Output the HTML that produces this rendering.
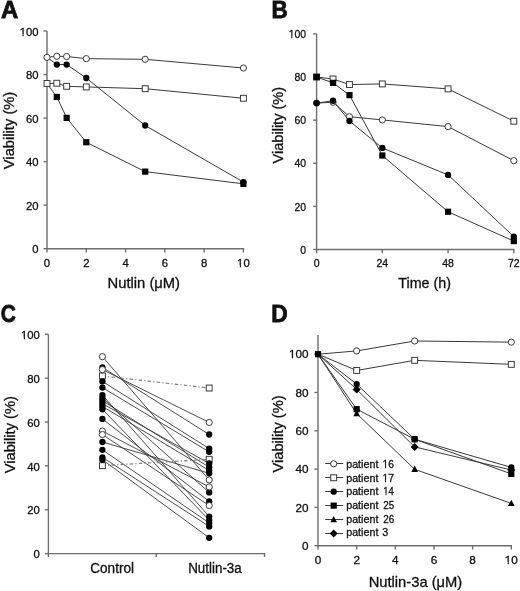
<!DOCTYPE html>
<html><head><meta charset="utf-8"><style>
html,body{margin:0;padding:0;background:#fff;}
svg{display:block;filter:grayscale(1) blur(0.3px);}
text{font-family:"Liberation Sans",sans-serif;fill:#111;stroke:#111;stroke-width:0.3px;}
</style></head><body>
<svg width="520" height="591" viewBox="0 0 520 591">
<rect width="520" height="591" fill="#fff"/>
<g>
<text x="1.02" y="17.80" font-size="23.7" font-weight="bold" style="stroke-width:0.8px" textLength="17.27" lengthAdjust="spacingAndGlyphs">A</text>
<line x1="47.00" y1="31.00" x2="47.00" y2="249.20" stroke="#6e6e6e" stroke-width="1.4" />
<line x1="43.50" y1="31.00" x2="47.00" y2="31.00" stroke="#6e6e6e" stroke-width="1.4" />
<text x="38.60" y="35.70" font-size="11.3" text-anchor="end" font-weight="normal" >100</text>
<line x1="43.50" y1="74.54" x2="47.00" y2="74.54" stroke="#6e6e6e" stroke-width="1.4" />
<text x="38.60" y="79.24" font-size="11.3" text-anchor="end" font-weight="normal" >80</text>
<line x1="43.50" y1="118.08" x2="47.00" y2="118.08" stroke="#6e6e6e" stroke-width="1.4" />
<text x="38.60" y="122.78" font-size="11.3" text-anchor="end" font-weight="normal" >60</text>
<line x1="43.50" y1="161.62" x2="47.00" y2="161.62" stroke="#6e6e6e" stroke-width="1.4" />
<text x="38.60" y="166.32" font-size="11.3" text-anchor="end" font-weight="normal" >40</text>
<line x1="43.50" y1="205.16" x2="47.00" y2="205.16" stroke="#6e6e6e" stroke-width="1.4" />
<text x="38.60" y="209.86" font-size="11.3" text-anchor="end" font-weight="normal" >20</text>
<line x1="43.50" y1="248.70" x2="47.00" y2="248.70" stroke="#6e6e6e" stroke-width="1.4" />
<text x="38.60" y="253.40" font-size="11.3" text-anchor="end" font-weight="normal" >0</text>
<line x1="47.00" y1="248.70" x2="244.10" y2="248.70" stroke="#6e6e6e" stroke-width="1.4" />
<line x1="47.00" y1="248.70" x2="47.00" y2="252.50" stroke="#6e6e6e" stroke-width="1.4" />
<text x="47.00" y="266.70" font-size="11.3" text-anchor="middle" font-weight="normal" >0</text>
<line x1="86.28" y1="248.70" x2="86.28" y2="252.50" stroke="#6e6e6e" stroke-width="1.4" />
<text x="86.28" y="266.70" font-size="11.3" text-anchor="middle" font-weight="normal" >2</text>
<line x1="125.56" y1="248.70" x2="125.56" y2="252.50" stroke="#6e6e6e" stroke-width="1.4" />
<text x="125.56" y="266.70" font-size="11.3" text-anchor="middle" font-weight="normal" >4</text>
<line x1="164.84" y1="248.70" x2="164.84" y2="252.50" stroke="#6e6e6e" stroke-width="1.4" />
<text x="164.84" y="266.70" font-size="11.3" text-anchor="middle" font-weight="normal" >6</text>
<line x1="204.12" y1="248.70" x2="204.12" y2="252.50" stroke="#6e6e6e" stroke-width="1.4" />
<text x="204.12" y="266.70" font-size="11.3" text-anchor="middle" font-weight="normal" >8</text>
<line x1="243.40" y1="248.70" x2="243.40" y2="252.50" stroke="#6e6e6e" stroke-width="1.4" />
<text x="243.40" y="266.70" font-size="11.3" text-anchor="middle" font-weight="normal" >10</text>
<text transform="translate(13.50,169.18) rotate(-90)" font-size="13.8" textLength="77.47" lengthAdjust="spacingAndGlyphs">Viability (%)</text>
<text x="107.52" y="287.90" font-size="13.8" textLength="72.52" lengthAdjust="spacingAndGlyphs">Nutlin (&#956;M)</text>
<polyline points="47.00,83.47 56.82,96.96 66.64,117.86 86.28,142.24 145.20,171.63 243.40,183.83" fill="none" stroke="#3a3a3a" stroke-width="1" />
<polyline points="47.00,57.34 56.82,64.53 66.64,64.53 86.28,78.02 145.20,125.48 243.40,182.08" fill="none" stroke="#3a3a3a" stroke-width="1" />
<polyline points="47.00,83.47 56.82,83.25 66.64,86.30 86.28,86.95 145.20,88.69 243.40,98.27" fill="none" stroke="#3a3a3a" stroke-width="1" />
<polyline points="47.00,57.34 56.82,56.25 66.64,56.47 86.28,58.65 145.20,59.30 243.40,68.01" fill="none" stroke="#3a3a3a" stroke-width="1" />
<circle cx="56.82" cy="64.53" r="3.15" fill="#000"/>
<circle cx="66.64" cy="64.53" r="3.15" fill="#000"/>
<circle cx="86.28" cy="78.02" r="3.15" fill="#000"/>
<circle cx="145.20" cy="125.48" r="3.15" fill="#000"/>
<circle cx="243.40" cy="182.08" r="3.15" fill="#000"/>
<rect x="53.72" y="93.86" width="6.20" height="6.20" fill="#000"/>
<rect x="63.54" y="114.76" width="6.20" height="6.20" fill="#000"/>
<rect x="83.18" y="139.14" width="6.20" height="6.20" fill="#000"/>
<rect x="142.10" y="168.53" width="6.20" height="6.20" fill="#000"/>
<rect x="240.30" y="180.73" width="6.20" height="6.20" fill="#000"/>
<rect x="44.05" y="80.52" width="5.90" height="5.90" fill="#fff" stroke="#3a3a3a" stroke-width="1"/>
<rect x="53.87" y="80.30" width="5.90" height="5.90" fill="#fff" stroke="#3a3a3a" stroke-width="1"/>
<rect x="63.69" y="83.35" width="5.90" height="5.90" fill="#fff" stroke="#3a3a3a" stroke-width="1"/>
<rect x="83.33" y="84.00" width="5.90" height="5.90" fill="#fff" stroke="#3a3a3a" stroke-width="1"/>
<rect x="142.25" y="85.74" width="5.90" height="5.90" fill="#fff" stroke="#3a3a3a" stroke-width="1"/>
<rect x="240.45" y="95.32" width="5.90" height="5.90" fill="#fff" stroke="#3a3a3a" stroke-width="1"/>
<circle cx="47.00" cy="57.34" r="3.10" fill="#fff" stroke="#3a3a3a" stroke-width="1"/>
<circle cx="56.82" cy="56.25" r="3.10" fill="#fff" stroke="#3a3a3a" stroke-width="1"/>
<circle cx="66.64" cy="56.47" r="3.10" fill="#fff" stroke="#3a3a3a" stroke-width="1"/>
<circle cx="86.28" cy="58.65" r="3.10" fill="#fff" stroke="#3a3a3a" stroke-width="1"/>
<circle cx="145.20" cy="59.30" r="3.10" fill="#fff" stroke="#3a3a3a" stroke-width="1"/>
<circle cx="243.40" cy="68.01" r="3.10" fill="#fff" stroke="#3a3a3a" stroke-width="1"/>
</g>
<g>
<text x="271.44" y="17.60" font-size="23.7" font-weight="bold" style="stroke-width:0.8px" textLength="16.25" lengthAdjust="spacingAndGlyphs">B</text>
<line x1="316.60" y1="33.90" x2="316.60" y2="250.00" stroke="#6e6e6e" stroke-width="1.4" />
<line x1="313.10" y1="33.90" x2="316.60" y2="33.90" stroke="#6e6e6e" stroke-width="1.4" />
<text transform="translate(306.20,38.05) scale(0.930,1)" font-size="11.3" text-anchor="end" font-weight="normal" >100</text>
<line x1="313.10" y1="77.02" x2="316.60" y2="77.02" stroke="#6e6e6e" stroke-width="1.4" />
<text transform="translate(306.20,81.17) scale(0.930,1)" font-size="11.3" text-anchor="end" font-weight="normal" >80</text>
<line x1="313.10" y1="120.14" x2="316.60" y2="120.14" stroke="#6e6e6e" stroke-width="1.4" />
<text transform="translate(306.20,124.29) scale(0.930,1)" font-size="11.3" text-anchor="end" font-weight="normal" >60</text>
<line x1="313.10" y1="163.26" x2="316.60" y2="163.26" stroke="#6e6e6e" stroke-width="1.4" />
<text transform="translate(306.20,167.41) scale(0.930,1)" font-size="11.3" text-anchor="end" font-weight="normal" >40</text>
<line x1="313.10" y1="206.38" x2="316.60" y2="206.38" stroke="#6e6e6e" stroke-width="1.4" />
<text transform="translate(306.20,210.53) scale(0.930,1)" font-size="11.3" text-anchor="end" font-weight="normal" >20</text>
<line x1="313.10" y1="249.50" x2="316.60" y2="249.50" stroke="#6e6e6e" stroke-width="1.4" />
<text transform="translate(306.20,253.65) scale(0.930,1)" font-size="11.3" text-anchor="end" font-weight="normal" >0</text>
<line x1="316.60" y1="249.50" x2="514.51" y2="249.50" stroke="#6e6e6e" stroke-width="1.4" />
<line x1="316.60" y1="249.50" x2="316.60" y2="253.30" stroke="#6e6e6e" stroke-width="1.4" />
<text transform="translate(316.60,266.50) scale(0.930,1)" font-size="11.3" text-anchor="middle" font-weight="normal" >0</text>
<line x1="382.34" y1="249.50" x2="382.34" y2="253.30" stroke="#6e6e6e" stroke-width="1.4" />
<text transform="translate(382.34,266.50) scale(0.930,1)" font-size="11.3" text-anchor="middle" font-weight="normal" >24</text>
<line x1="448.07" y1="249.50" x2="448.07" y2="253.30" stroke="#6e6e6e" stroke-width="1.4" />
<text transform="translate(448.07,266.50) scale(0.930,1)" font-size="11.3" text-anchor="middle" font-weight="normal" >48</text>
<line x1="513.81" y1="249.50" x2="513.81" y2="253.30" stroke="#6e6e6e" stroke-width="1.4" />
<text transform="translate(513.81,266.50) scale(0.930,1)" font-size="11.3" text-anchor="middle" font-weight="normal" >72</text>
<text transform="translate(282.50,163.38) rotate(-90)" font-size="13.8" textLength="76.42" lengthAdjust="spacingAndGlyphs">Viability (%)</text>
<text x="398.35" y="288.10" font-size="13.8" textLength="52.62" lengthAdjust="spacingAndGlyphs">Time (h)</text>
<polyline points="316.60,103.11 333.03,102.25 349.47,116.69 382.34,119.92 448.07,126.61 513.81,160.67" fill="none" stroke="#3a3a3a" stroke-width="1" />
<polyline points="316.60,77.02 333.03,78.96 349.47,84.57 382.34,83.92 448.07,88.88 513.81,121.22" fill="none" stroke="#3a3a3a" stroke-width="1" />
<polyline points="316.60,103.11 333.03,100.74 349.47,121.00 382.34,147.95 448.07,174.90 513.81,236.56" fill="none" stroke="#3a3a3a" stroke-width="1" />
<polyline points="316.60,77.02 333.03,82.84 349.47,95.13 382.34,155.50 448.07,211.77 513.81,241.09" fill="none" stroke="#3a3a3a" stroke-width="1" />
<circle cx="316.60" cy="103.11" r="3.10" fill="#fff" stroke="#3a3a3a" stroke-width="1"/>
<circle cx="333.03" cy="102.25" r="3.10" fill="#fff" stroke="#3a3a3a" stroke-width="1"/>
<circle cx="349.47" cy="116.69" r="3.10" fill="#fff" stroke="#3a3a3a" stroke-width="1"/>
<circle cx="382.34" cy="119.92" r="3.10" fill="#fff" stroke="#3a3a3a" stroke-width="1"/>
<circle cx="448.07" cy="126.61" r="3.10" fill="#fff" stroke="#3a3a3a" stroke-width="1"/>
<circle cx="513.81" cy="160.67" r="3.10" fill="#fff" stroke="#3a3a3a" stroke-width="1"/>
<rect x="313.65" y="74.07" width="5.90" height="5.90" fill="#fff" stroke="#3a3a3a" stroke-width="1"/>
<rect x="330.08" y="76.01" width="5.90" height="5.90" fill="#fff" stroke="#3a3a3a" stroke-width="1"/>
<rect x="346.52" y="81.62" width="5.90" height="5.90" fill="#fff" stroke="#3a3a3a" stroke-width="1"/>
<rect x="379.39" y="80.97" width="5.90" height="5.90" fill="#fff" stroke="#3a3a3a" stroke-width="1"/>
<rect x="445.12" y="85.93" width="5.90" height="5.90" fill="#fff" stroke="#3a3a3a" stroke-width="1"/>
<rect x="510.86" y="118.27" width="5.90" height="5.90" fill="#fff" stroke="#3a3a3a" stroke-width="1"/>
<circle cx="316.60" cy="103.11" r="3.15" fill="#000"/>
<circle cx="333.03" cy="100.74" r="3.15" fill="#000"/>
<circle cx="349.47" cy="121.00" r="3.15" fill="#000"/>
<circle cx="382.34" cy="147.95" r="3.15" fill="#000"/>
<circle cx="448.07" cy="174.90" r="3.15" fill="#000"/>
<circle cx="513.81" cy="236.56" r="3.15" fill="#000"/>
<rect x="313.50" y="73.92" width="6.20" height="6.20" fill="#000"/>
<rect x="329.93" y="79.74" width="6.20" height="6.20" fill="#000"/>
<rect x="346.37" y="92.03" width="6.20" height="6.20" fill="#000"/>
<rect x="379.24" y="152.40" width="6.20" height="6.20" fill="#000"/>
<rect x="444.97" y="208.67" width="6.20" height="6.20" fill="#000"/>
<rect x="510.71" y="237.99" width="6.20" height="6.20" fill="#000"/>
</g>
<g>
<text x="0.65" y="321.70" font-size="23.7" font-weight="bold" style="stroke-width:0.8px" textLength="15.10" lengthAdjust="spacingAndGlyphs">C</text>
<line x1="48.40" y1="334.30" x2="48.40" y2="554.10" stroke="#6e6e6e" stroke-width="1.4" />
<line x1="44.90" y1="334.30" x2="48.40" y2="334.30" stroke="#6e6e6e" stroke-width="1.4" />
<text x="39.90" y="338.95" font-size="11.3" text-anchor="end" font-weight="normal" >100</text>
<line x1="44.90" y1="378.16" x2="48.40" y2="378.16" stroke="#6e6e6e" stroke-width="1.4" />
<text x="39.90" y="382.81" font-size="11.3" text-anchor="end" font-weight="normal" >80</text>
<line x1="44.90" y1="422.02" x2="48.40" y2="422.02" stroke="#6e6e6e" stroke-width="1.4" />
<text x="39.90" y="426.67" font-size="11.3" text-anchor="end" font-weight="normal" >60</text>
<line x1="44.90" y1="465.88" x2="48.40" y2="465.88" stroke="#6e6e6e" stroke-width="1.4" />
<text x="39.90" y="470.53" font-size="11.3" text-anchor="end" font-weight="normal" >40</text>
<line x1="44.90" y1="509.74" x2="48.40" y2="509.74" stroke="#6e6e6e" stroke-width="1.4" />
<text x="39.90" y="514.39" font-size="11.3" text-anchor="end" font-weight="normal" >20</text>
<line x1="44.90" y1="553.60" x2="48.40" y2="553.60" stroke="#6e6e6e" stroke-width="1.4" />
<text x="39.90" y="558.25" font-size="11.3" text-anchor="end" font-weight="normal" >0</text>
<line x1="48.40" y1="553.60" x2="265.20" y2="553.60" stroke="#6e6e6e" stroke-width="1.4" />
<line x1="48.40" y1="553.60" x2="48.40" y2="557.00" stroke="#6e6e6e" stroke-width="1.4" />
<line x1="156.30" y1="553.60" x2="156.30" y2="557.00" stroke="#6e6e6e" stroke-width="1.4" />
<line x1="264.50" y1="553.60" x2="264.50" y2="557.00" stroke="#6e6e6e" stroke-width="1.4" />
<text transform="translate(15.40,473.19) rotate(-90)" font-size="13.8" textLength="77.00" lengthAdjust="spacingAndGlyphs">Viability (%)</text>
<text x="90.28" y="573.00" font-size="13.8" textLength="43.71" lengthAdjust="spacingAndGlyphs">Control</text>
<text x="188.23" y="572.80" font-size="13.8" textLength="53.48" lengthAdjust="spacingAndGlyphs">Nutlin-3a</text>
<line x1="102.40" y1="356.67" x2="209.20" y2="479.92" stroke="#3a3a3a" stroke-width="0.9" />
<line x1="102.40" y1="367.41" x2="209.20" y2="434.52" stroke="#3a3a3a" stroke-width="0.9" />
<line x1="102.40" y1="369.61" x2="209.20" y2="422.46" stroke="#3a3a3a" stroke-width="0.9" />
<line x1="102.40" y1="381.45" x2="209.20" y2="448.56" stroke="#3a3a3a" stroke-width="0.9" />
<line x1="102.40" y1="387.59" x2="209.20" y2="451.84" stroke="#3a3a3a" stroke-width="0.9" />
<line x1="102.40" y1="395.05" x2="209.20" y2="516.54" stroke="#3a3a3a" stroke-width="0.9" />
<line x1="102.40" y1="397.90" x2="209.20" y2="492.42" stroke="#3a3a3a" stroke-width="0.9" />
<line x1="102.40" y1="400.75" x2="209.20" y2="467.20" stroke="#3a3a3a" stroke-width="0.9" />
<line x1="102.40" y1="403.60" x2="209.20" y2="463.47" stroke="#3a3a3a" stroke-width="0.9" />
<line x1="102.40" y1="406.45" x2="209.20" y2="470.49" stroke="#3a3a3a" stroke-width="0.9" />
<line x1="102.40" y1="409.30" x2="209.20" y2="520.05" stroke="#3a3a3a" stroke-width="0.9" />
<line x1="102.40" y1="418.95" x2="209.20" y2="501.41" stroke="#3a3a3a" stroke-width="0.9" />
<line x1="102.40" y1="431.01" x2="209.20" y2="486.93" stroke="#3a3a3a" stroke-width="0.9" />
<line x1="102.40" y1="434.52" x2="209.20" y2="505.57" stroke="#3a3a3a" stroke-width="0.9" />
<line x1="102.40" y1="441.98" x2="209.20" y2="473.34" stroke="#3a3a3a" stroke-width="0.9" />
<line x1="102.40" y1="449.87" x2="209.20" y2="522.90" stroke="#3a3a3a" stroke-width="0.9" />
<line x1="102.40" y1="457.33" x2="209.20" y2="526.41" stroke="#3a3a3a" stroke-width="0.9" />
<line x1="102.40" y1="459.74" x2="209.20" y2="537.81" stroke="#3a3a3a" stroke-width="0.9" />
<line x1="102.40" y1="375.97" x2="209.20" y2="388.03" stroke="#808080" stroke-width="1.2" stroke-dasharray="3.5,2.2,1.2,2.2"/>
<line x1="102.40" y1="465.66" x2="209.20" y2="459.30" stroke="#808080" stroke-width="1.2" stroke-dasharray="3.5,2.2,1.2,2.2"/>
<rect x="99.45" y="373.02" width="5.90" height="5.90" fill="#fff" stroke="#3a3a3a" stroke-width="1"/>
<rect x="206.25" y="385.08" width="5.90" height="5.90" fill="#fff" stroke="#3a3a3a" stroke-width="1"/>
<rect x="99.45" y="462.71" width="5.90" height="5.90" fill="#fff" stroke="#3a3a3a" stroke-width="1"/>
<rect x="206.25" y="456.35" width="5.90" height="5.90" fill="#fff" stroke="#3a3a3a" stroke-width="1"/>
<circle cx="102.40" cy="356.67" r="3.10" fill="#fff" stroke="#3a3a3a" stroke-width="1"/>
<circle cx="102.40" cy="367.41" r="3.15" fill="#000"/>
<circle cx="102.40" cy="369.61" r="3.10" fill="#fff" stroke="#3a3a3a" stroke-width="1"/>
<circle cx="102.40" cy="381.45" r="3.15" fill="#000"/>
<circle cx="102.40" cy="387.59" r="3.15" fill="#000"/>
<circle cx="102.40" cy="395.05" r="3.15" fill="#000"/>
<circle cx="102.40" cy="397.90" r="3.15" fill="#000"/>
<circle cx="102.40" cy="400.75" r="3.15" fill="#000"/>
<circle cx="102.40" cy="403.60" r="3.15" fill="#000"/>
<circle cx="102.40" cy="406.45" r="3.15" fill="#000"/>
<circle cx="102.40" cy="409.30" r="3.15" fill="#000"/>
<circle cx="102.40" cy="418.95" r="3.15" fill="#000"/>
<circle cx="102.40" cy="431.01" r="3.10" fill="#fff" stroke="#3a3a3a" stroke-width="1"/>
<circle cx="102.40" cy="434.52" r="3.10" fill="#fff" stroke="#3a3a3a" stroke-width="1"/>
<circle cx="102.40" cy="441.98" r="3.15" fill="#000"/>
<circle cx="102.40" cy="449.87" r="3.15" fill="#000"/>
<circle cx="102.40" cy="457.33" r="3.15" fill="#000"/>
<circle cx="102.40" cy="459.74" r="3.15" fill="#000"/>
<circle cx="209.20" cy="479.92" r="3.10" fill="#fff" stroke="#3a3a3a" stroke-width="1"/>
<circle cx="209.20" cy="434.52" r="3.15" fill="#000"/>
<circle cx="209.20" cy="422.46" r="3.10" fill="#fff" stroke="#3a3a3a" stroke-width="1"/>
<circle cx="209.20" cy="448.56" r="3.15" fill="#000"/>
<circle cx="209.20" cy="451.84" r="3.15" fill="#000"/>
<circle cx="209.20" cy="516.54" r="3.15" fill="#000"/>
<circle cx="209.20" cy="492.42" r="3.15" fill="#000"/>
<circle cx="209.20" cy="467.20" r="3.15" fill="#000"/>
<circle cx="209.20" cy="463.47" r="3.15" fill="#000"/>
<circle cx="209.20" cy="470.49" r="3.15" fill="#000"/>
<circle cx="209.20" cy="520.05" r="3.15" fill="#000"/>
<circle cx="209.20" cy="501.41" r="3.15" fill="#000"/>
<circle cx="209.20" cy="486.93" r="3.10" fill="#fff" stroke="#3a3a3a" stroke-width="1"/>
<circle cx="209.20" cy="505.57" r="3.10" fill="#fff" stroke="#3a3a3a" stroke-width="1"/>
<circle cx="209.20" cy="473.34" r="3.15" fill="#000"/>
<circle cx="209.20" cy="522.90" r="3.15" fill="#000"/>
<circle cx="209.20" cy="526.41" r="3.15" fill="#000"/>
<circle cx="209.20" cy="537.81" r="3.15" fill="#000"/>
</g>
<g>
<text x="271.37" y="321.80" font-size="23.7" font-weight="bold" style="stroke-width:0.8px" textLength="16.42" lengthAdjust="spacingAndGlyphs">D</text>
<line x1="318.00" y1="335.00" x2="318.00" y2="546.20" stroke="#6e6e6e" stroke-width="1.4" />
<line x1="314.40" y1="354.20" x2="318.00" y2="354.20" stroke="#6e6e6e" stroke-width="1.4" />
<text transform="translate(308.60,358.35) scale(1.040,1)" font-size="11.3" text-anchor="end" font-weight="normal" >100</text>
<line x1="314.40" y1="392.50" x2="318.00" y2="392.50" stroke="#6e6e6e" stroke-width="1.4" />
<text transform="translate(308.60,396.65) scale(1.040,1)" font-size="11.3" text-anchor="end" font-weight="normal" >80</text>
<line x1="314.40" y1="430.80" x2="318.00" y2="430.80" stroke="#6e6e6e" stroke-width="1.4" />
<text transform="translate(308.60,434.95) scale(1.040,1)" font-size="11.3" text-anchor="end" font-weight="normal" >60</text>
<line x1="314.40" y1="469.10" x2="318.00" y2="469.10" stroke="#6e6e6e" stroke-width="1.4" />
<text transform="translate(308.60,473.25) scale(1.040,1)" font-size="11.3" text-anchor="end" font-weight="normal" >40</text>
<line x1="314.40" y1="507.40" x2="318.00" y2="507.40" stroke="#6e6e6e" stroke-width="1.4" />
<text transform="translate(308.60,511.55) scale(1.040,1)" font-size="11.3" text-anchor="end" font-weight="normal" >20</text>
<line x1="314.40" y1="545.70" x2="318.00" y2="545.70" stroke="#6e6e6e" stroke-width="1.4" />
<text transform="translate(308.60,549.85) scale(1.040,1)" font-size="11.3" text-anchor="end" font-weight="normal" >0</text>
<line x1="318.00" y1="545.70" x2="512.00" y2="545.70" stroke="#6e6e6e" stroke-width="1.4" />
<line x1="318.00" y1="545.70" x2="318.00" y2="549.50" stroke="#6e6e6e" stroke-width="1.4" />
<text transform="translate(318.00,563.70) scale(1.040,1)" font-size="11.3" text-anchor="middle" font-weight="normal" >0</text>
<line x1="356.66" y1="545.70" x2="356.66" y2="549.50" stroke="#6e6e6e" stroke-width="1.4" />
<text transform="translate(356.66,563.70) scale(1.040,1)" font-size="11.3" text-anchor="middle" font-weight="normal" >2</text>
<line x1="395.32" y1="545.70" x2="395.32" y2="549.50" stroke="#6e6e6e" stroke-width="1.4" />
<text transform="translate(395.32,563.70) scale(1.040,1)" font-size="11.3" text-anchor="middle" font-weight="normal" >4</text>
<line x1="433.98" y1="545.70" x2="433.98" y2="549.50" stroke="#6e6e6e" stroke-width="1.4" />
<text transform="translate(433.98,563.70) scale(1.040,1)" font-size="11.3" text-anchor="middle" font-weight="normal" >6</text>
<line x1="472.64" y1="545.70" x2="472.64" y2="549.50" stroke="#6e6e6e" stroke-width="1.4" />
<text transform="translate(472.64,563.70) scale(1.040,1)" font-size="11.3" text-anchor="middle" font-weight="normal" >8</text>
<line x1="511.30" y1="545.70" x2="511.30" y2="549.50" stroke="#6e6e6e" stroke-width="1.4" />
<text transform="translate(511.30,563.70) scale(1.040,1)" font-size="11.3" text-anchor="middle" font-weight="normal" >10</text>
<text transform="translate(282.50,472.46) rotate(-90)" font-size="13.8" textLength="77.06" lengthAdjust="spacingAndGlyphs">Viability (%)</text>
<text x="368.66" y="587.00" font-size="14.4" textLength="93.56" lengthAdjust="spacingAndGlyphs">Nutlin-3a (&#956;M)</text>
<polyline points="318.00,354.20 356.66,413.57 414.65,469.29 511.30,503.38" fill="none" stroke="#3a3a3a" stroke-width="1" />
<polyline points="318.00,354.20 356.66,409.16 414.65,439.23 511.30,473.89" fill="none" stroke="#3a3a3a" stroke-width="1" />
<polyline points="318.00,354.20 356.66,389.44 414.65,446.89 511.30,470.06" fill="none" stroke="#3a3a3a" stroke-width="1" />
<polyline points="318.00,354.20 356.66,384.07 414.65,439.23 511.30,467.38" fill="none" stroke="#3a3a3a" stroke-width="1" />
<polyline points="318.00,354.20 356.66,370.48 414.65,360.33 511.30,364.35" fill="none" stroke="#3a3a3a" stroke-width="1" />
<polyline points="318.00,354.20 356.66,350.94 414.65,340.99 511.30,342.14" fill="none" stroke="#3a3a3a" stroke-width="1" />
<polygon points="356.66,409.87 359.96,416.27 353.36,416.27" fill="#000"/>
<polygon points="414.65,465.59 417.95,471.99 411.35,471.99" fill="#000"/>
<polygon points="511.30,499.68 514.60,506.08 508.00,506.08" fill="#000"/>
<polygon points="356.66,385.44 360.66,389.44 356.66,393.44 352.66,389.44" fill="#000"/>
<polygon points="414.65,442.89 418.65,446.89 414.65,450.89 410.65,446.89" fill="#000"/>
<polygon points="511.30,466.06 515.30,470.06 511.30,474.06 507.30,470.06" fill="#000"/>
<circle cx="356.66" cy="384.07" r="3.15" fill="#000"/>
<circle cx="414.65" cy="439.23" r="3.15" fill="#000"/>
<circle cx="511.30" cy="467.38" r="3.15" fill="#000"/>
<rect x="353.56" y="406.06" width="6.20" height="6.20" fill="#000"/>
<rect x="411.55" y="436.13" width="6.20" height="6.20" fill="#000"/>
<rect x="508.20" y="470.79" width="6.20" height="6.20" fill="#000"/>
<rect x="353.71" y="367.53" width="5.90" height="5.90" fill="#fff" stroke="#3a3a3a" stroke-width="1"/>
<rect x="411.70" y="357.38" width="5.90" height="5.90" fill="#fff" stroke="#3a3a3a" stroke-width="1"/>
<rect x="508.35" y="361.40" width="5.90" height="5.90" fill="#fff" stroke="#3a3a3a" stroke-width="1"/>
<circle cx="356.66" cy="350.94" r="3.10" fill="#fff" stroke="#3a3a3a" stroke-width="1"/>
<circle cx="414.65" cy="340.99" r="3.10" fill="#fff" stroke="#3a3a3a" stroke-width="1"/>
<circle cx="511.30" cy="342.14" r="3.10" fill="#fff" stroke="#3a3a3a" stroke-width="1"/>
<rect x="314.90" y="351.10" width="6.20" height="6.20" fill="#000"/>
<line x1="325.20" y1="463.50" x2="343.20" y2="463.50" stroke="#3a3a3a" stroke-width="1" />
<circle cx="333.70" cy="463.80" r="3.10" fill="#fff" stroke="#3a3a3a" stroke-width="1"/>
<text x="346.18" y="467.80" font-size="10.8" textLength="32.23" lengthAdjust="spacingAndGlyphs">patient</text>
<text x="382.61" y="467.80" font-size="10.8" textLength="11.35" lengthAdjust="spacingAndGlyphs">16</text>
<line x1="325.20" y1="477.50" x2="343.20" y2="477.50" stroke="#3a3a3a" stroke-width="1" />
<rect x="330.75" y="474.80" width="5.90" height="5.90" fill="#fff" stroke="#3a3a3a" stroke-width="1"/>
<text x="346.18" y="481.50" font-size="10.8" textLength="32.23" lengthAdjust="spacingAndGlyphs">patient</text>
<text x="382.48" y="481.50" font-size="10.8" textLength="11.36" lengthAdjust="spacingAndGlyphs">17</text>
<line x1="325.20" y1="491.50" x2="343.20" y2="491.50" stroke="#3a3a3a" stroke-width="1" />
<circle cx="333.70" cy="491.70" r="3.15" fill="#000"/>
<text x="346.18" y="495.20" font-size="10.8" textLength="32.23" lengthAdjust="spacingAndGlyphs">patient</text>
<text x="383.17" y="495.20" font-size="10.8" textLength="10.50" lengthAdjust="spacingAndGlyphs">14</text>
<line x1="325.20" y1="505.50" x2="343.20" y2="505.50" stroke="#3a3a3a" stroke-width="1" />
<rect x="330.60" y="502.55" width="6.20" height="6.20" fill="#000"/>
<text x="346.18" y="508.90" font-size="10.8" textLength="32.23" lengthAdjust="spacingAndGlyphs">patient</text>
<text x="383.19" y="508.90" font-size="10.8" textLength="10.95" lengthAdjust="spacingAndGlyphs">25</text>
<line x1="325.20" y1="519.50" x2="343.20" y2="519.50" stroke="#3a3a3a" stroke-width="1" />
<polygon points="333.70,515.90 337.00,522.30 330.40,522.30" fill="#000"/>
<text x="346.18" y="522.60" font-size="10.8" textLength="32.23" lengthAdjust="spacingAndGlyphs">patient</text>
<text x="383.20" y="522.60" font-size="10.8" textLength="10.98" lengthAdjust="spacingAndGlyphs">26</text>
<line x1="325.20" y1="533.50" x2="343.20" y2="533.50" stroke="#3a3a3a" stroke-width="1" />
<polygon points="333.70,529.55 337.70,533.55 333.70,537.55 329.70,533.55" fill="#000"/>
<text x="346.18" y="536.30" font-size="10.8" textLength="32.23" lengthAdjust="spacingAndGlyphs">patient</text>
<text x="382.30" y="536.30" font-size="10.8" textLength="5.97" lengthAdjust="spacingAndGlyphs">3</text>
</g>
<rect x="19.57" y="34.11" width="2.91" height="3.09" fill="#fff"/>
<rect x="23.69" y="34.11" width="2.73" height="3.09" fill="#fff"/>
<rect x="236.94" y="265.11" width="2.91" height="3.09" fill="#fff"/>
<rect x="241.06" y="265.11" width="2.73" height="3.09" fill="#fff"/>
<rect x="288.44" y="36.46" width="2.77" height="3.09" fill="#fff"/>
<rect x="292.34" y="36.46" width="2.59" height="3.09" fill="#fff"/>
<rect x="20.87" y="337.36" width="2.91" height="3.09" fill="#fff"/>
<rect x="24.99" y="337.36" width="2.73" height="3.09" fill="#fff"/>
<rect x="288.85" y="356.76" width="2.99" height="3.09" fill="#fff"/>
<rect x="293.09" y="356.76" width="2.80" height="3.09" fill="#fff"/>
<rect x="504.62" y="562.11" width="2.99" height="3.09" fill="#fff"/>
<rect x="508.86" y="562.11" width="2.80" height="3.09" fill="#fff"/>
<rect x="382.36" y="466.24" width="2.72" height="3.06" fill="#fff"/>
<rect x="386.18" y="466.24" width="2.54" height="3.06" fill="#fff"/>
<rect x="382.23" y="479.94" width="2.72" height="3.06" fill="#fff"/>
<rect x="386.05" y="479.94" width="2.54" height="3.06" fill="#fff"/>
<rect x="382.86" y="493.64" width="2.58" height="3.06" fill="#fff"/>
<rect x="386.48" y="493.64" width="2.41" height="3.06" fill="#fff"/>
</svg>
</body></html>
